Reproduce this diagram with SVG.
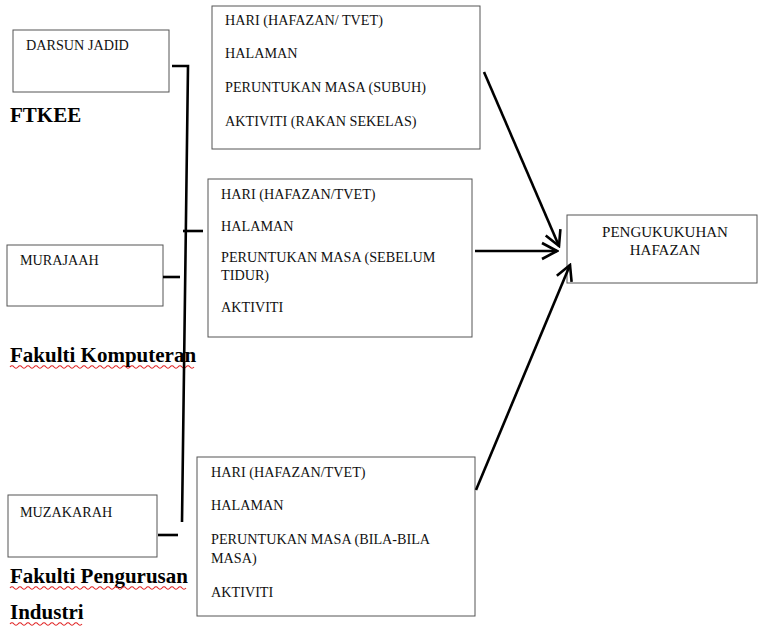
<svg xmlns="http://www.w3.org/2000/svg" width="758" height="628" viewBox="0 0 758 628">
<defs>
<style>
.box{fill:#fff;stroke:#555;stroke-width:1}
.t{font-family:'Liberation Serif','DejaVu Serif',serif;font-size:14.2px;fill:#111}
.t2{font-family:'Liberation Serif','DejaVu Serif',serif;font-size:15px;fill:#111}
.lbl{font-family:'Liberation Serif','DejaVu Serif',serif;font-size:21px;font-weight:bold;fill:#000}
.ln{fill:none;stroke:#000;stroke-width:2.6;stroke-linecap:butt}
.wv{fill:none;stroke:#e02020;stroke-width:1.1}
</style>
<marker id="ah" viewBox="0 0 20 20" refX="18" refY="10" markerWidth="20" markerHeight="20" markerUnits="userSpaceOnUse" orient="auto">
<path d="M3,2 L18,10 L3,18" fill="none" stroke="#000" stroke-width="2.6"/>
</marker>
</defs>
<rect width="758" height="628" fill="#fff"/>

<g id="darsun">
<rect class="box" x="13" y="30" width="156" height="62"/>
<text class="t" x="26" y="50">DARSUN JADID</text>
</g>
<g id="ftkee"><text class="lbl" x="10" y="122">FTKEE</text></g>

<g id="murajaah">
<rect class="box" x="7" y="245" width="156" height="61"/>
<text class="t" x="20" y="265">MURAJAAH</text>
</g>
<g id="fk">
<text class="lbl" x="10" y="362">Fakulti Komputeran</text>
<path class="wv" d="M10,367 q2,-2.5 4,0 t4,0 t4,0 t4,0 t4,0 t4,0 t4,0 t4,0 t4,0 t4,0 t4,0 t4,0 t4,0 t4,0 t4,0 t4,0 t4,0 t4,0 t4,0 t4,0 t4,0 t4,0 t4,0 t4,0 t4,0 t4,0 t4,0 t4,0 t4,0 t4,0 t4,0 t4,0 t4,0 t4,0 t4,0 t4,0 t4,0 t4,0 t4,0 t4,0 t4,0 t4,0 t4,0 t4,0 t4,0 t4,0"/>
</g>

<g id="muzakarah">
<rect class="box" x="8" y="495" width="149" height="62"/>
<text class="t" x="20" y="517">MUZAKARAH</text>
</g>
<g id="fpi">
<text class="lbl" x="10" y="583">Fakulti Pengurusan</text>
<path class="wv" d="M10,588 q2,-2.5 4,0 t4,0 t4,0 t4,0 t4,0 t4,0 t4,0 t4,0 t4,0 t4,0 t4,0 t4,0 t4,0 t4,0 t4,0 t4,0 t4,0 t4,0 t4,0 t4,0 t4,0 t4,0 t4,0 t4,0 t4,0 t4,0 t4,0 t4,0 t4,0 t4,0 t4,0 t4,0 t4,0 t4,0 t4,0 t4,0 t4,0 t4,0 t4,0 t4,0 t4,0 t4,0 t4,0 t4,0"/>
<text class="lbl" x="10" y="619">Industri</text>
<path class="wv" d="M10,624 q2,-2.5 4,0 t4,0 t4,0 t4,0 t4,0 t4,0 t4,0 t4,0 t4,0 t4,0 t4,0 t4,0 t4,0 t4,0 t4,0 t4,0 t4,0 t4,0"/>
</g>

<g id="box1">
<rect class="box" x="212" y="6" width="268" height="143"/>
<text class="t" x="225" y="25">HARI (HAFAZAN/ TVET)</text>
<text class="t" x="225" y="58">HALAMAN</text>
<text class="t" x="225" y="92">PERUNTUKAN MASA (SUBUH)</text>
<text class="t" x="225" y="126">AKTIVITI (RAKAN SEKELAS)</text>
</g>

<g id="box2">
<rect class="box" x="208" y="179" width="264" height="158"/>
<text class="t" x="221" y="199">HARI (HAFAZAN/TVET)</text>
<text class="t" x="221" y="231">HALAMAN</text>
<text class="t" x="221" y="262">PERUNTUKAN MASA (SEBELUM</text>
<text class="t" x="221" y="280">TIDUR)</text>
<text class="t" x="221" y="312">AKTIVITI</text>
</g>

<g id="box3">
<rect class="box" x="197" y="457" width="278" height="159"/>
<text class="t" x="211" y="477">HARI (HAFAZAN/TVET)</text>
<text class="t" x="211" y="510">HALAMAN</text>
<text class="t" x="211" y="544">PERUNTUKAN MASA (BILA-BILA</text>
<text class="t" x="211" y="563">MASA)</text>
<text class="t" x="211" y="597">AKTIVITI</text>
</g>

<g id="pengukuhan">
<rect class="box" x="567" y="215" width="190" height="68"/>
<text class="t2" x="665" y="237" text-anchor="middle">PENGUKUKUHAN</text>
<text class="t2" x="665" y="255" text-anchor="middle">HAFAZAN</text>
</g>

<g id="connectors">
<path class="ln" d="M172,66 H188 L182,522"/>
<path class="ln" d="M183,231 H203"/>
<path class="ln" d="M163,277 H180"/>
<path class="ln" d="M158,535 H178"/>
<path class="ln" d="M484,72 L559,246" marker-end="url(#ah)"/>
<path class="ln" d="M475,251 L557,251" marker-end="url(#ah)"/>
<path class="ln" d="M476,490 L570,265" marker-end="url(#ah)"/>
</g>
</svg>
